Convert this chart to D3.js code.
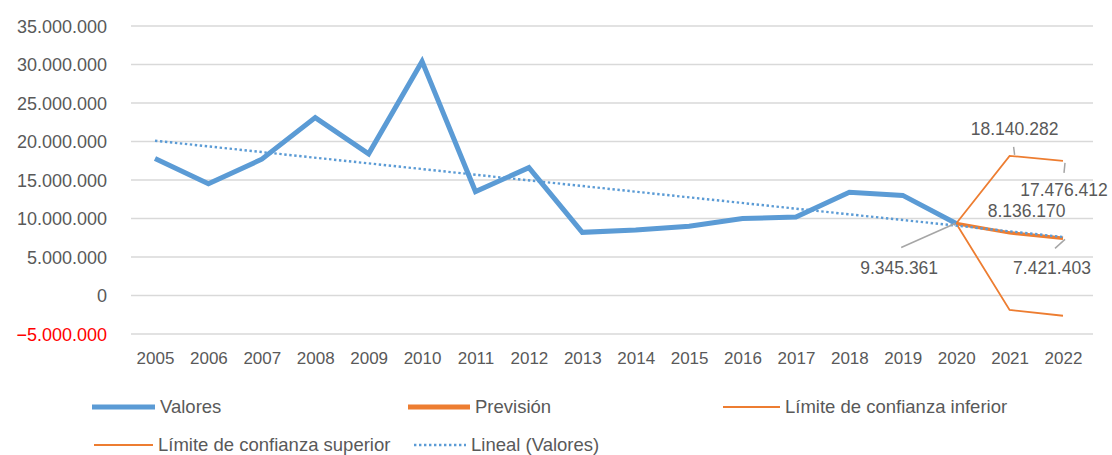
<!DOCTYPE html>
<html><head><meta charset="utf-8">
<script src="https://cdn.jsdelivr.net/npm/d3@7"></script>
<style>
html,body{margin:0;padding:0;background:#fff;}
svg{display:block;font-family:"Liberation Sans",Arial,sans-serif;}
</style></head>
<body>
<svg id="chart" width="1112" height="455"></svg>
<script>
// ---- data ----
const years = ["2005","2006","2007","2008","2009","2010","2011","2012","2013","2014","2015","2016","2017","2018","2019","2020","2021","2022"];
const valoresYears = ["2005","2006","2007","2008","2009","2010","2011","2012","2013","2014","2015","2016","2017","2018","2019","2020"];
const valores = [17800000,14500000,17700000,23100000,18400000,30400000,13500000,16600000,8200000,8500000,9000000,10000000,10200000,13400000,13000000,9345361];
const forecastYears = ["2020","2021","2022"];
const prevision = [9345361,8136170,7421403];
const limiteInferior = [9345361,-1870000,-2630000];
const limiteSuperior = [9345361,18140282,17476412];
const trendYears = ["2005","2022"];
const trendValues = [20100000,7600000];
const yTicks = [-5000000,0,5000000,10000000,15000000,20000000,25000000,30000000,35000000];
const legendItems = ["Valores","Previsión","Límite de confianza inferior","Límite de confianza superior","Lineal (Valores)"];

// ---- setup ----
const svg = d3.select("#chart");
const blue = "#5B9BD5", orange = "#ED7D31", gray = "#595959";
const locale = d3.formatLocale({decimal:",", thousands:".", grouping:[3], currency:["","€"]});
const fmt = locale.format(",d");

const x = d3.scalePoint().domain(years).range([155, 1063]);
const y = d3.scaleLinear().domain([-5000000, 35000000]).range([334, 26]);

// gridlines
svg.append("g").selectAll("line").data(yTicks).join("line")
  .attr("x1", 131).attr("x2", 1093)
  .attr("y1", d => y(d)).attr("y2", d => y(d))
  .attr("stroke", "#D9D9D9").attr("stroke-width", 1.3);

// y axis labels
const yAxis = svg.append("g").attr("transform", "translate(107,0)")
  .call(d3.axisLeft(y).tickValues(yTicks).tickSize(0).tickPadding(0).tickFormat(d => fmt(d)));
yAxis.select(".domain").remove();
yAxis.selectAll("text").attr("font-size", 18).attr("font-family", "Liberation Sans, Arial, sans-serif")
  .attr("fill", d => d < 0 ? "#FF0000" : gray).attr("dy", "0.35em");

// x axis labels
const xAxis = svg.append("g").attr("transform", "translate(0,352)")
  .call(d3.axisBottom(x).tickSize(0).tickPadding(0));
xAxis.select(".domain").remove();
xAxis.selectAll("text").attr("font-size", 17).attr("font-family", "Liberation Sans, Arial, sans-serif").attr("fill", gray).attr("dy", "0.71em");

const line = d3.line().x(d => x(d[0])).y(d => y(d[1]));

// lines
svg.append("path").datum(d3.zip(forecastYears, limiteInferior)).attr("d", line)
  .attr("fill", "none").attr("stroke", orange).attr("stroke-width", 1.8);
svg.append("path").datum(d3.zip(forecastYears, limiteSuperior)).attr("d", line)
  .attr("fill", "none").attr("stroke", orange).attr("stroke-width", 1.8);
svg.append("path").datum(d3.zip(valoresYears, valores)).attr("d", line)
  .attr("fill", "none").attr("stroke", blue).attr("stroke-width", 5).attr("stroke-linejoin", "miter");
svg.append("path").datum(d3.zip(forecastYears, prevision)).attr("d", line)
  .attr("fill", "none").attr("stroke", orange).attr("stroke-width", 3.5);
svg.append("path").datum(d3.zip(trendYears, trendValues)).attr("d", line)
  .attr("fill", "none").attr("stroke", blue).attr("stroke-width", 2.4).attr("stroke-dasharray", "2.4,2.6");

// data labels with leader lines
const labels = [
  {yr:"2021", v:limiteSuperior[1], dx:5, dy:-27, lx1:4, ly1:-9, lx2:5, ly2:-1},
  {yr:"2022", v:limiteSuperior[2], dx:1, dy:29, lx1:2, ly1:2, lx2:1, ly2:12},
  {yr:"2021", v:prevision[1], dx:17, dy:-22, lx1:0, ly1:0, lx2:0, ly2:0},
  {yr:"2022", v:prevision[2], dx:-11, dy:30, lx1:2, ly1:1, lx2:-8, ly2:10},
  {yr:"2020", v:valores[15], dx:-57, dy:44, lx1:-55, ly1:24, lx2:-1, ly2:0},
];
const lg = svg.append("g");
labels.forEach(l => {
  const px = x(l.yr), py = y(l.v);
  if (l.lx1 !== l.lx2 || l.ly1 !== l.ly2) {
    lg.append("line").attr("x1", px + l.lx1).attr("y1", py + l.ly1)
      .attr("x2", px + l.lx2).attr("y2", py + l.ly2)
      .attr("stroke", "#A6A6A6").attr("stroke-width", 1.5);
  }
  lg.append("text").attr("x", px + l.dx).attr("y", py + l.dy).attr("dy", "0.35em")
    .attr("text-anchor", "middle").attr("font-size", 17.5).attr("fill", gray)
    .text(fmt(l.v));
});

// legend
const legendPos = [
  {x:92, y:407, w:63, type:"thick", color:blue},
  {x:408, y:407, w:62, type:"thick", color:orange},
  {x:723, y:407, w:57, type:"thin", color:orange},
  {x:94, y:445, w:59, type:"thin", color:orange},
  {x:414, y:445, w:52, type:"dot", color:blue},
];
const leg = svg.append("g");
legendItems.forEach((name, i) => {
  const p = legendPos[i];
  const ln = leg.append("line").attr("x1", p.x).attr("x2", p.x + p.w).attr("y1", p.y).attr("y2", p.y).attr("stroke", p.color);
  if (p.type === "thick") ln.attr("stroke-width", 5);
  else if (p.type === "thin") ln.attr("stroke-width", 2);
  else ln.attr("stroke-width", 2.4).attr("stroke-dasharray", "2.4,2.6");
  leg.append("text").attr("x", p.x + p.w + 5).attr("y", p.y).attr("dy", "0.35em")
    .attr("font-size", 18.5).attr("fill", gray).text(name);
});
</script>
</body></html>
